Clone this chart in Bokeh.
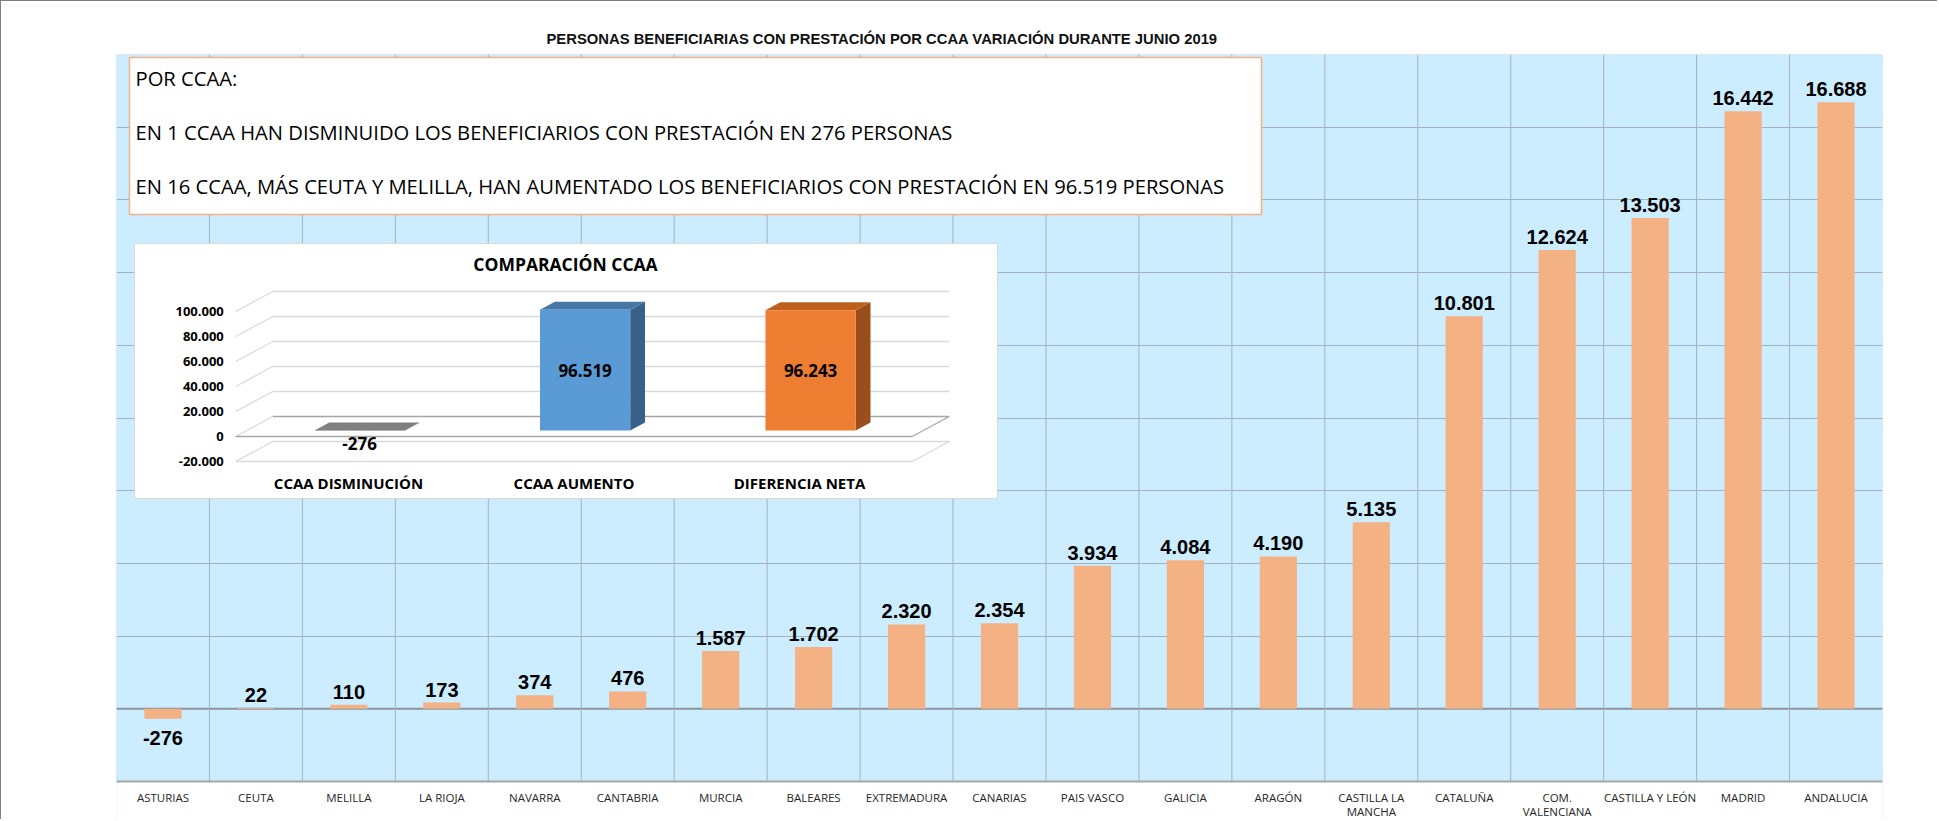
from bokeh.plotting import figure
from bokeh.models import (Range1d, Span, SingleIntervalTicker, FixedTicker, ColumnDataSource,
                          BoxAnnotation)
from bokeh.core.properties import value
from bokeh.embed import file_html
from bokeh.resources import INLINE

# ---------------- data ----------------
regions = ["ASTURIAS", "CEUTA", "MELILLA", "LA RIOJA", "NAVARRA", "CANTABRIA", "MURCIA",
           "BALEARES", "EXTREMADURA", "CANARIAS", "PAIS VASCO", "GALICIA", "ARAGÓN",
           "CASTILLA LA\nMANCHA", "CATALUÑA", "COM.\nVALENCIANA", "CASTILLA Y LEÓN",
           "MADRID", "ANDALUCIA"]
changes = [-276, 22, 110, 173, 374, 476, 1587, 1702, 2320, 2354, 3934, 4084, 4190,
           5135, 10801, 12624, 13503, 16442, 16688]
y_min, y_max, y_step = -2000, 18000, 2000

comp_cats = ["CCAA DISMINUCIÓN", "CCAA AUMENTO", "DIFERENCIA NETA"]
comp_vals = [-276, 96519, 96243]
comp_front = ["#8C8C8C", "#5B9BD5", "#ED7D31"]
comp_top = ["#7F7F7F", "#4676A6", "#BF5F1E"]
comp_side = ["#6F6F6F", "#386189", "#9B4E1B"]
inset_ticks = [-20000, 0, 20000, 40000, 60000, 80000, 100000]

title_text = "PERSONAS BENEFICIARIAS CON PRESTACIÓN POR CCAA VARIACIÓN DURANTE JUNIO 2019"
inset_title = "COMPARACIÓN CCAA"
note_lines = ["POR CCAA:",
              "EN 1 CCAA HAN DISMINUIDO LOS BENEFICIARIOS  CON PRESTACIÓN EN 276 PERSONAS",
              "EN 16 CCAA, MÁS CEUTA Y MELILLA, HAN AUMENTADO LOS BENEFICIARIOS CON PRESTACIÓN EN 96.519 PERSONAS"]


def es(v):
    return f"{v:,}".replace(",", ".")


# ---------------- layout geometry (window pixels) ----------------
W, H = 1937, 819
O = 1                          # canvas origin in window px (border)
FL, FR, FT = 116, 1882, 54     # frame left/right/top
PB = 781                       # bottom of the blue plot area
FBF = O + H                    # frame bottom (canvas bottom)
IX0, IXS = 348.0, 225.5        # inset: category 0 centre px, px per category
IY0, IYS = 436.0, 800.0        # inset: zero px, value units per px

upp = (y_max - y_min) / (PB - FT)
n = len(regions)
idx = list(range(n))
p = figure(width=W, height=H, x_range=Range1d(-0.5, n - 0.5),
           y_range=Range1d(y_min - (FBF - PB) * upp, y_max),
           output_backend="svg", toolbar_location=None,
           min_border_left=FL - O, min_border_right=W - (FR - O),
           min_border_top=FT - O, min_border_bottom=0)
p.styles = {"border-left": "1px solid #7F7F7F", "border-top": "1px solid #7F7F7F"}

p.extra_x_ranges = {"px": Range1d(FL, FR),
                    "ix": Range1d((FL - IX0) / IXS, (FR - IX0) / IXS)}
p.extra_y_ranges = {"py": Range1d(FBF, FT),
                    "iy": Range1d(-(FBF - IY0) * IYS, (IY0 - FT) * IYS)}

p.background_fill_color = "#CCECFF"
p.border_fill_color = "white"
p.outline_line_color = None
p.add_layout(BoxAnnotation(top=y_min, fill_color="white", fill_alpha=1,
                           line_color=None, level="underlay"))
p.add_layout(BoxAnnotation(bottom=y_min, top=y_max, fill_alpha=0,
                           line_color="#A6A6A6", line_width=1, level="underlay"))

p.title.text = title_text
p.title.align = "left"
p.title.offset = 430
p.title.standoff = 15
p.title.text_font = "Liberation Sans"
p.title.text_font_size = "14.8px"
p.title.text_font_style = "bold"
p.title.text_color = "#111111"

p.yaxis.visible = False
p.ygrid.ticker = SingleIntervalTicker(interval=y_step)
p.ygrid.grid_line_color = "#A4B2BD"
p.xgrid.visible = False
p.add_layout(Span(location=0, dimension="width", line_color="#8C959C",
                  line_width=2, level="underlay"))

ax = p.xaxis[0]
ax.fixed_location = y_min
ax.ticker = FixedTicker(ticks=idx)
ax.major_label_overrides = {i: r for i, r in zip(idx, regions)}
ax.major_tick_line_color = None
ax.minor_tick_line_color = None
ax.axis_line_color = "#A6A6A6"
ax.axis_line_width = 2
ax.major_label_standoff = 2
ax.major_label_text_font = "Open Sans"
ax.major_label_text_font_size = "11.5px"
ax.major_label_text_color = "#262626"
ax.major_label_text_line_height = 0.98

# vertical category separators
bnd = [i + 0.5 for i in idx[:-1]]
p.segment(x0=bnd, x1=bnd, y0=[y_min] * len(bnd), y1=[y_max] * len(bnd),
          line_color="#A4B2BD", line_width=1)

# ---------------- main bars ----------------
src = ColumnDataSource(dict(x=idx, top=changes,
                            lab=[es(v) for v in changes],
                            off=[-13 if v >= 0 else 19 for v in changes]))
p.vbar(x="x", top="top", bottom=0, width=0.4, source=src, fill_color="#F4B183",
       line_color=None)
p.text(x="x", y="top", text="lab", y_offset="off", source=src, text_align="center",
       text_baseline="middle", text_font=value("Liberation Sans"), text_font_style="bold",
       text_font_size="20px", text_color="black")

# ---------------- text box ----------------
p.quad(left=[129], right=[1261], top=[57], bottom=[214], x_range_name="px",
       y_range_name="py", fill_color="white", line_color="#F4B183", line_width=1.5)
p.text(x=[135] * 3, y=[77, 131, 185.5], text=note_lines, x_range_name="px",
       y_range_name="py", text_baseline="middle", text_align="left",
       text_font=value("Open Sans"), text_font_size="20.2px", text_color="black")

# ---------------- inset chart ----------------
p.quad(left=[134], right=[997], top=[243], bottom=[498], x_range_name="px",
       y_range_name="py", fill_color="white", line_color="#D9D9D9", line_width=1)
p.text(x=[565], y=[263], text=[inset_title], x_range_name="px", y_range_name="py",
       text_align="center", text_baseline="middle", text_font=value("Open Sans"),
       text_font_style="bold", text_font_size="17.5px", text_color="black")

dxw, dyw = 37 / IXS, 20 * IYS
x0f, x1f = -0.5, len(comp_cats) - 0.5
kw = dict(x_range_name="ix", y_range_name="iy")

bx0, by0, bx1, by1, bcol = [], [], [], [], []
for t in inset_ticks:
    bx0 += [x0f + dxw, x0f]
    bx1 += [x1f + dxw, x0f + dxw]
    by0 += [t + dyw, t]
    by1 += [t + dyw, t + dyw]
    c = "#A6A6A6" if t == 0 else "#D9D9D9"
    bcol += [c, "#D9D9D9"]
for t in (inset_ticks[0], 0):
    bx0 += [x0f, x1f]
    bx1 += [x1f, x1f + dxw]
    by0 += [t, t]
    by1 += [t, t + dyw]
    c = "#A6A6A6" if t == 0 else "#D9D9D9"
    bcol += [c, c]
p.segment(x0=bx0, y0=by0, x1=bx1, y1=by1, line_color=bcol, line_width=1.3, **kw)

d0, dd = 0.3, 0.4
hw = 0.2
side_xs, side_ys, top_xs, top_ys = [], [], [], []
fl, fr, fb, ft = [], [], [], []
lab_x, lab_y, lab_off = [], [], []
for i, v in enumerate(comp_vals):
    L = i - hw + d0 * dxw
    R = i + hw + d0 * dxw
    B = d0 * dyw
    T = v + d0 * dyw
    hi = max(B, T)
    ox, oy = dd * dxw, dd * dyw
    side_xs.append([R, R, R + ox, R + ox])
    side_ys.append([min(B, T), hi, hi + oy, min(B, T) + oy])
    top_xs.append([L, R, R + ox, L + ox])
    top_ys.append([hi, hi, hi + oy, hi + oy])
    fl.append(L); fr.append(R); fb.append(B); ft.append(T)
    lab_x.append((L + R) / 2)
    if v >= 0:
        lab_y.append(v / 2 + B); lab_off.append(0)
    else:
        lab_y.append(T); lab_off.append(13)
p.patches(xs=side_xs, ys=side_ys, fill_color=comp_side, line_color=None, **kw)
p.patches(xs=top_xs, ys=top_ys, fill_color=comp_top, line_color=None, **kw)
p.quad(left=fl, right=fr, bottom=fb, top=ft, fill_color=comp_front, line_color=None, **kw)
p.text(x=lab_x, y=lab_y, y_offset=lab_off, text=[es(v) for v in comp_vals],
       text_align="center", text_baseline="middle", text_font=value("Open Sans"),
       text_font_style="bold", text_font_size="17px", text_color="black", **kw)

p.text(x=[x0f] * len(inset_ticks), y=inset_ticks, text=[es(t) for t in inset_ticks],
       x_offset=-12, text_align="right", text_baseline="middle",
       text_font=value("Open Sans"), text_font_style="bold", text_font_size="13px",
       text_color="black", **kw)
p.text(x=list(range(len(comp_cats))), y=[inset_ticks[0]] * len(comp_cats), y_offset=21,
       text=comp_cats, text_align="center", text_baseline="middle",
       text_font=value("Open Sans"), text_font_style="bold", text_font_size="15px",
       text_color="black", **kw)

open("out.html", "w").write(file_html(p, INLINE))
